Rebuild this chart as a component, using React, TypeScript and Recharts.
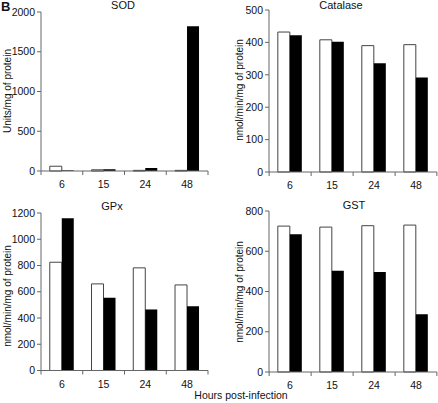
import { BarChart, Bar, XAxis, YAxis } from "recharts";

const hours = ["6", "15", "24", "48"];

// white bars = control, black bars = infected
const sodControl = [60, 15, 8, 8];
const sodInfected = [8, 22, 38, 1820];
const catControl = [432, 408, 390, 393];
const catInfected = [422, 402, 336, 292];
const gpxControl = [825, 660, 782, 652];
const gpxInfected = [1160, 555, 465, 490];
const gstControl = [725, 720, 727, 730];
const gstInfected = [685, 503, 497, 287];

const sodTicks = [0, 500, 1000, 1500, 2000];
const catTicks = [0, 100, 200, 300, 400, 500];
const gpxTicks = [0, 200, 400, 600, 800, 1000, 1200];
const gstTicks = [0, 200, 400, 600, 800];

const AXIS = "#666";
const TEXT = "#111";
const FONT = 10.5;
const BAND = 167 / hours.length;

function HourTick(props: any) {
  const { x, y, payload, index } = props;
  const half = BAND / 2;
  return (
    <g>
      <line x1={x - half} x2={x - half} y1={y} y2={y + 4} stroke={AXIS} />
      {index === hours.length - 1 && (
        <line x1={x + half} x2={x + half} y1={y} y2={y + 4} stroke={AXIS} />
      )}
      <text x={x} y={y + 17} textAnchor="middle" fontSize={FONT} fill={TEXT}>
        {payload.value}
      </text>
    </g>
  );
}

interface PanelProps {
  left: number;
  top: number;
  height: number;
  margin: { top: number; right: number; bottom: number; left: number };
  yTicks: number[];
  control: number[];
  infected: number[];
}

function Panel({ left, top, height, margin, yTicks, control, infected }: PanelProps) {
  const rows = hours.map((h, i) => ({
    hour: h,
    control: control[i],
    infected: infected[i],
  }));
  return (
    <div style={{ position: "absolute", left, top }}>
      <BarChart
        width={219}
        height={height}
        data={rows}
        margin={margin}
        barGap={0}
        barCategoryGap="21%"
      >
        <XAxis
          dataKey="hour"
          axisLine={{ stroke: AXIS }}
          tickLine={false}
          tickSize={0}
          tickMargin={0}
          tick={<HourTick />}
          height={20}
          interval={0}
        />
        <YAxis
          width={30}
          domain={[0, yTicks[yTicks.length - 1]]}
          ticks={yTicks}
          interval={0}
          axisLine={{ stroke: AXIS }}
          tickLine={{ stroke: AXIS }}
          tickSize={4}
          tickMargin={2}
          tick={{ fontSize: FONT, fill: TEXT }}
        />
        <Bar dataKey="control" fill="#fff" stroke="#444" strokeWidth={1} isAnimationActive={false} />
        <Bar dataKey="infected" fill="#000" isAnimationActive={false} />
      </BarChart>
    </div>
  );
}

export default function App() {
  return (
    <div
      style={{
        position: "absolute",
        left: 0,
        top: 0,
        width: 438,
        height: 403,
        background: "#fff",
        fontFamily: "'Liberation Sans', Arial, sans-serif",
      }}
    >
      <Panel
        left={0}
        top={0}
        height={200}
        margin={{ top: 12, right: 11, bottom: 9, left: 11 }}
        yTicks={sodTicks}
        control={sodControl}
        infected={sodInfected}
      />
      <Panel
        left={219}
        top={0}
        height={200}
        margin={{ top: 10, right: 1, bottom: 8, left: 20 }}
        yTicks={catTicks}
        control={catControl}
        infected={catInfected}
      />
      <Panel
        left={0}
        top={200}
        height={203}
        margin={{ top: 13, right: 11, bottom: 12.5, left: 11 }}
        yTicks={gpxTicks}
        control={gpxControl}
        infected={gpxInfected}
      />
      <Panel
        left={219}
        top={200}
        height={203}
        margin={{ top: 11, right: 1, bottom: 11, left: 20 }}
        yTicks={gstTicks}
        control={gstControl}
        infected={gstInfected}
      />
      <svg
        width={438}
        height={403}
        style={{ position: "absolute", left: 0, top: 0, pointerEvents: "none" }}
      >
        <g fill={TEXT} fontSize={11}>
          <text x={1} y={11} fontSize={13} fontWeight="bold">B</text>
          <text x={123} y={9} textAnchor="middle">SOD</text>
          <text x={341} y={9} textAnchor="middle">Catalase</text>
          <text x={112} y={210} textAnchor="middle">GPx</text>
          <text x={354} y={209} textAnchor="middle">GST</text>
        </g>
        <g fill={TEXT} fontSize={10} textAnchor="middle">
          <text transform="translate(11, 91) rotate(-90)">Units/mg of protein</text>
          <text transform="translate(242.5, 90) rotate(-90)">nmol/min/mg of protein</text>
          <text transform="translate(11, 296) rotate(-90)">nmol/min/mg of protein</text>
          <text transform="translate(242.5, 292) rotate(-90)">nmol/min/mg of protein</text>
        </g>
        <text x={241} y={399} fill={TEXT} fontSize={FONT} textAnchor="middle">
          Hours post-infection
        </text>
      </svg>
    </div>
  );
}
